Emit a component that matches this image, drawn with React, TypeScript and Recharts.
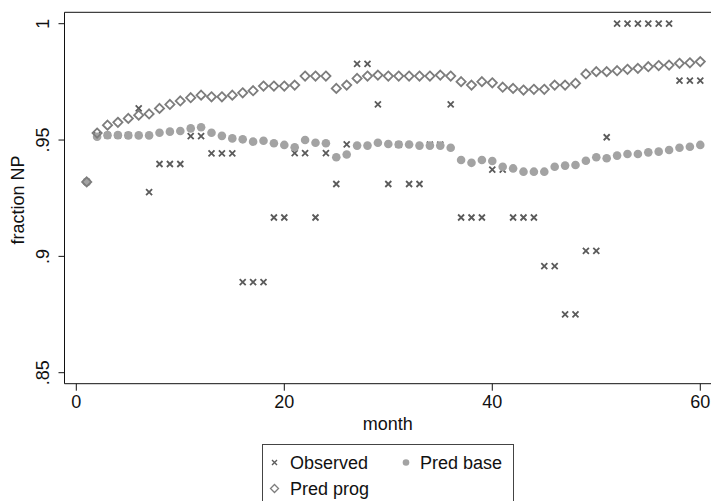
import React from 'react';
import { ScatterChart, Scatter, XAxis, YAxis, ReferenceLine } from 'recharts';

const months = [1,2,3,4,5,6,7,8,9,10,11,12,13,14,15,16,17,18,19,20,21,22,23,24,25,26,27,28,29,30,31,32,33,34,35,36,37,38,39,40,41,42,43,44,45,46,47,48,49,50,51,52,53,54,55,56,57,58,59,60];

const observed = [
  0.932, 0.952, 0.952, 0.952, 0.952, 0.9636, 0.9276, 0.9397, 0.9397, 0.9397,
  0.9517, 0.9517, 0.9443, 0.9443, 0.9443, 0.8889, 0.8889, 0.8889, 0.9167, 0.9167,
  0.9444, 0.9444, 0.9167, 0.9444, 0.9311, 0.9481, 0.9827, 0.9827, 0.9653, 0.9311,
  0.948, 0.9311, 0.9311, 0.948, 0.948, 0.9653, 0.9167, 0.9167, 0.9167, 0.9373,
  0.9373, 0.9167, 0.9167, 0.9167, 0.8958, 0.8958, 0.8751, 0.8751, 0.9024, 0.9024,
  0.9512, 1.0, 1.0, 1.0, 1.0, 1.0, 1.0, 0.9755, 0.9755, 0.9755,
];

const predBase = [
  0.932, 0.9514, 0.9521, 0.9521, 0.952, 0.952, 0.952, 0.9531, 0.9536, 0.9539,
  0.955, 0.9555, 0.9531, 0.9518, 0.9507, 0.9503, 0.9493, 0.9497, 0.9486, 0.9479,
  0.9469, 0.95, 0.9488, 0.9486, 0.9426, 0.9438, 0.9476, 0.9476, 0.9488, 0.9483,
  0.9481, 0.9481, 0.9476, 0.9476, 0.9476, 0.9467, 0.9414, 0.9402, 0.9414, 0.941,
  0.9385, 0.9378, 0.9364, 0.9364, 0.9364, 0.9385, 0.939, 0.9393, 0.9411, 0.9426,
  0.9422, 0.9433, 0.944, 0.944, 0.9447, 0.945, 0.9457, 0.9467, 0.9471, 0.9479,
];

const predProg = [
  0.932, 0.953, 0.9564, 0.9576, 0.9593, 0.9607, 0.9612, 0.9636, 0.9653, 0.9668,
  0.9682, 0.9693, 0.9686, 0.9686, 0.9693, 0.9703, 0.9712, 0.9732, 0.9732, 0.9732,
  0.9736, 0.9775, 0.9775, 0.9775, 0.9722, 0.9736, 0.9765, 0.9775, 0.9779, 0.9775,
  0.9775, 0.9775, 0.9775, 0.9775, 0.9779, 0.9775, 0.9751, 0.9736, 0.9751, 0.9746,
  0.9727, 0.9722, 0.9715, 0.9718, 0.9718, 0.9736, 0.9736, 0.9744, 0.9784, 0.9794,
  0.9794, 0.9798, 0.9804, 0.9808, 0.9815, 0.982, 0.9822, 0.983, 0.9832, 0.9837,
];

const xTicks = [0, 20, 40, 60];
const yTicks = [0.85, 0.9, 0.95, 1];
const yTickLabels = ['.85', '.9', '.95', '1'];

const X_DOMAIN: [number, number] = [-1.135, 61.03];
const Y_DOMAIN: [number, number] = [0.84527, 1.0049];

const FONT = '"Liberation Sans", Arial, Helvetica, sans-serif';
const OBS_COLOR = '#5b5b5b';
const BASE_COLOR = '#a3a3a3';
const PROG_COLOR = '#7d7d7d';

const obsData = months.map((m, i) => ({ month: m, v: observed[i] }));
const baseData = months.map((m, i) => ({ month: m, v: predBase[i] }));
const progData = months.map((m, i) => ({ month: m, v: predProg[i] }));

const Cross = (props: any) => {
  const { cx, cy } = props;
  if (cx == null || cy == null) return null;
  const s = 3;
  return (
    <path
      d={`M${cx - s},${cy - s}L${cx + s},${cy + s}M${cx - s},${cy + s}L${cx + s},${cy - s}`}
      stroke={OBS_COLOR}
      strokeWidth={1.8}
      fill="none"
    />
  );
};

const Dot = (props: any) => {
  const { cx, cy } = props;
  if (cx == null || cy == null) return null;
  return <circle cx={cx} cy={cy} r={4.3} fill={BASE_COLOR} />;
};

const Diamond = (props: any) => {
  const { cx, cy } = props;
  if (cx == null || cy == null) return null;
  const s = 4.6;
  return (
    <path
      d={`M${cx},${cy - s}L${cx + s},${cy}L${cx},${cy + s}L${cx - s},${cy}Z`}
      stroke={PROG_COLOR}
      strokeWidth={1.8}
      fill="none"
    />
  );
};

const XTick = (props: any) => {
  const { x, payload } = props;
  return (
    <text x={x} y={408} textAnchor="middle" fontSize={18} fontFamily={FONT} fill="#111">
      {payload.value}
    </text>
  );
};

const YTick = (props: any) => {
  const { y, payload } = props;
  const idx = yTicks.indexOf(payload.value);
  const label = idx >= 0 ? yTickLabels[idx] : String(payload.value);
  const bx = 49;
  return (
    <text
      x={bx}
      y={y}
      textAnchor="middle"
      transform={`rotate(-90 ${bx} ${y})`}
      fontSize={18}
      fontFamily={FONT}
      fill="#111"
    >
      {label}
    </text>
  );
};

const XLabel = (props: any) => {
  const vb = props.viewBox || { x: 64.5, width: 646.5 };
  const cx = vb.x + vb.width / 2;
  return (
    <text x={cx} y={430} textAnchor="middle" fontSize={18} fontFamily={FONT} fill="#111">
      month
    </text>
  );
};

const YLabel = () => {
  const x = 24;
  const y = 200;
  return (
    <text
      x={x}
      y={y}
      textAnchor="middle"
      transform={`rotate(-90 ${x} ${y})`}
      fontSize={18}
      fontFamily={FONT}
      fill="#111"
    >
      fraction NP
    </text>
  );
};

const LegendBox = () => (
  <svg
    width={260}
    height={60}
    style={{ position: 'absolute', left: 258, top: 441, overflow: 'visible' }}
  >
    <rect x={4.5} y={3.5} width={251} height={57} fill="#fff" stroke="#444" strokeWidth={1} />
    <path d="M14,19L19,24M14,24L19,19" stroke={OBS_COLOR} strokeWidth={1.4} />
    <text x={32} y={28} fontSize={18} fontFamily={FONT} fill="#111">Observed</text>
    <circle cx={148} cy={21.5} r={3.3} fill={BASE_COLOR} />
    <text x={162} y={28} fontSize={18} fontFamily={FONT} fill="#111">Pred base</text>
    <path d="M16.5,43.5L20.5,47.5L16.5,51.5L12.5,47.5Z" stroke={PROG_COLOR} strokeWidth={1.3} fill="none" />
    <text x={32} y={54} fontSize={18} fontFamily={FONT} fill="#111">Pred prog</text>
  </svg>
);

export default function App() {
  return (
    <div style={{ position: 'absolute', left: 0, top: 0, width: 711, height: 501, overflow: 'hidden', background: '#fff' }}>
      <ScatterChart
        width={711}
        height={501}
        margin={{ top: 12.3, right: 0, bottom: 0, left: 0 }}
      >
        <XAxis
          type="number"
          dataKey="month"
          domain={X_DOMAIN}
          ticks={xTicks}
          allowDataOverflow
          height={117.3}
          tickSize={7}
          axisLine={{ stroke: '#111', strokeWidth: 1 }}
          tickLine={{ stroke: '#111', strokeWidth: 1 }}
          tick={<XTick />}
          label={<XLabel />}
        />
        <YAxis
          type="number"
          dataKey="v"
          domain={Y_DOMAIN}
          ticks={yTicks}
          allowDataOverflow
          width={64.5}
          tickSize={6}
          axisLine={{ stroke: '#111', strokeWidth: 1 }}
          tickLine={{ stroke: '#111', strokeWidth: 1 }}
          tick={<YTick />}
          label={<YLabel />}
        />
        <ReferenceLine y={Y_DOMAIN[1]} stroke="#111" strokeWidth={1} ifOverflow="extendDomain" />
        <Scatter name="Observed" data={obsData} shape={<Cross />} isAnimationActive={false} />
        <Scatter name="Pred base" data={baseData} shape={<Dot />} isAnimationActive={false} />
        <Scatter name="Pred prog" data={progData} shape={<Diamond />} isAnimationActive={false} />
      </ScatterChart>
      <LegendBox />
    </div>
  );
}
